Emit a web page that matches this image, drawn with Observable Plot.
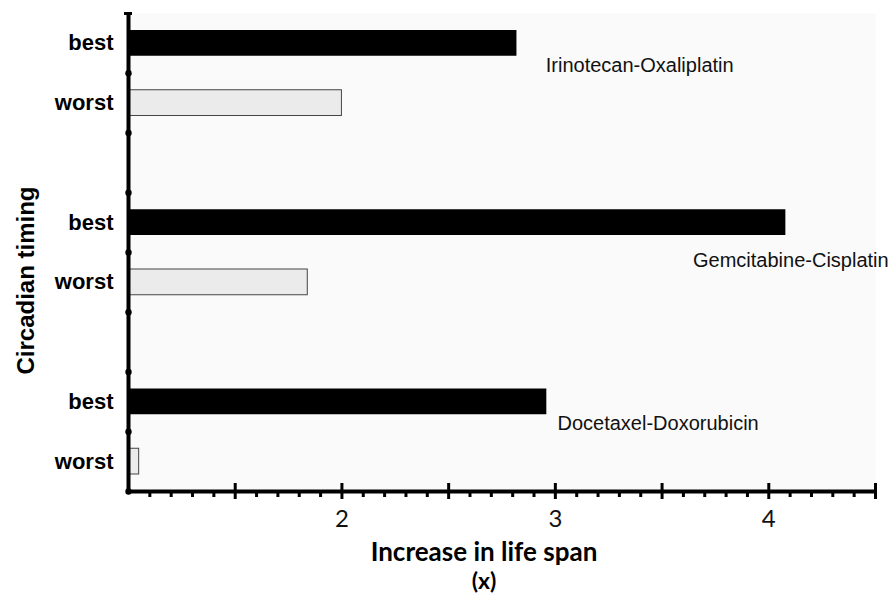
<!DOCTYPE html>
<html>
<head>
<meta charset="utf-8">
<script src="https://cdn.jsdelivr.net/npm/d3@7"></script>
<script src="https://cdn.jsdelivr.net/npm/@observablehq/plot@0.6"></script>
<style>
  html, body { margin: 0; padding: 0; background: #ffffff; }
  #chart { width: 893px; height: 596px; }
</style>
</head>
<body>
<div id="chart"></div>
<script>
// ---- data ----
const drugs = ["Irinotecan-Oxaliplatin", "Gemcitabine-Cisplatin", "Docetaxel-Doxorubicin"];
const timings = ["best", "worst"];
const bestValues = [2.82, 4.08, 2.96];
const worstValues = [2.00, 1.84, 1.05];
const xTickValues = [2, 3, 4];
const xTickLabels = ["2", "3", "4"];
const xTitleLines = ["Increase in life span", "(x)"];
const yTitle = "Circadian timing";
// annotation anchors (in data units: x value, row slot)
const labelX = [2.955, 3.645, 3.01];
const labelRow = [0.87, 4.14, 6.86];

// ---- build table ----
const slotsPerGroup = timings.length + 1; // one empty slot between groups
const nSlots = drugs.length * slotsPerGroup - 1;
const rows = [];
drugs.forEach((drug, i) => {
  rows.push({drug, timing: "best", value: bestValues[i], slot: i * slotsPerGroup});
  rows.push({drug, timing: "worst", value: worstValues[i], slot: i * slotsPerGroup + 1});
});
const labels = drugs.map((d, i) => ({text: d, x: labelX[i], y: labelRow[i]}));
const xTicks = xTickValues.map((v, i) => ({value: v, label: xTickLabels[i]}));
const majorTicks = d3.range(1.5, 4.51, 0.5);
const minorTicks = d3.range(11, 45).filter(v => v % 5 !== 0).map(v => v / 10);
const yLabelTicks = rows.map(r => r.slot + 0.5);
const yLabelFor = v => { const r = rows.find(r => Math.abs(r.slot + 0.5 - v) < 1e-6); return r ? r.timing : ""; };

const plot = Plot.plot({
  width: 893,
  height: 596,
  marginLeft: 128,
  marginRight: 18,
  marginTop: 13,
  marginBottom: 105,
  style: {background: "transparent", color: "black"},
  x: {domain: [1, 4.5], axis: null},
  y: {domain: [0, nSlots], reverse: true, axis: null},
  marks: [
    Plot.frame({fill: "#fafafa", stroke: null}),
    // bars
    Plot.rectX(rows, {
      x1: 1, x2: "value", y1: "slot", y2: d => d.slot + 1,
      insetTop: 17, insetBottom: 17,
      fill: d => d.timing === "best" ? "black" : "#ebebeb",
      stroke: d => d.timing === "best" ? "none" : "#444",
      strokeWidth: 1
    }),
    // axis lines
    Plot.ruleX([1], {strokeWidth: 4, stroke: "black"}),
    Plot.ruleY([nSlots], {strokeWidth: 4, stroke: "black"}),
    // top cap
    Plot.ruleY([0], {x1: 1, x2: 1, insetLeft: -4, insetRight: -4, strokeWidth: 3}),
    // y axis dots
    Plot.dot(d3.range(1, nSlots + 1), {x: 1, y: d => d, r: 3.2, fill: "black"}),
    // minor x ticks
    Plot.axisX(minorTicks, {tickSize: 6, strokeWidth: 3, tickFormat: () => "", label: null}),
    // major x ticks
    Plot.axisX(majorTicks, {tickSize: 16, dy: -8, strokeWidth: 3, tickFormat: () => "", label: null}),
    // x tick labels
    Plot.text(xTicks, {
      x: "value", text: "label", frameAnchor: "bottom", lineAnchor: "middle", dy: 28,
      fontSize: 24, fontFamily: "Lato", fill: "#111"
    }),
    // y tick labels
    Plot.axisY(yLabelTicks, {
      tickSize: 0, tickPadding: 15,
      tickFormat: yLabelFor,
      fontSize: 22, fontWeight: "bold", fontFamily: "Liberation Sans", label: null
    }),
    // drug labels
    Plot.text(labels, {
      x: "x", y: "y", text: "text", textAnchor: "start",
      fontSize: 20, fontFamily: "Liberation Sans", fill: "#111"
    }),
    // axis titles
    Plot.text([yTitle], {
      text: d => d, frameAnchor: "left", textAnchor: "middle", rotate: -90, dx: -102, dy: 28,
      fontSize: 24, fontWeight: "bold", fontFamily: "Liberation Sans"
    }),
    Plot.text([xTitleLines[0]], {
      text: d => d, frameAnchor: "bottom", textAnchor: "middle", lineAnchor: "middle", dx: -18, dy: 61,
      fontSize: 26, fontWeight: "bold", fontFamily: "Lato"
    }),
    Plot.text([xTitleLines[1]], {
      text: d => d, frameAnchor: "bottom", textAnchor: "middle", lineAnchor: "middle", dx: -18, dy: 90,
      fontSize: 23, fontWeight: "bold", fontFamily: "Lato"
    })
  ]
});
document.getElementById("chart").appendChild(plot);
</script>
</body>
</html>
